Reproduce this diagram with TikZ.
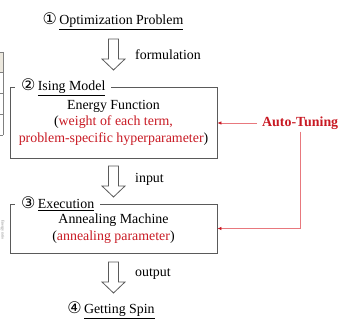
\documentclass[tikz,border=0pt]{standalone}
\usepackage{fontspec}
\setmainfont{Liberation Serif}
\newfontfamily\symfont{DejaVu Sans}
\usetikzlibrary{arrows.meta}
\definecolor{boxgray}{RGB}{90,90,90}
\definecolor{tred}{RGB}{200,25,35}
\definecolor{lred}{RGB}{232,120,125}
\definecolor{beige}{RGB}{236,232,222}
\newcommand{\cnum}[1]{{\symfont\fontsize{16}{16}\selectfont #1}}
\begin{document}
\begin{tikzpicture}[x=1pt,y=-1pt,
  font=\fontsize{13.9}{16.5}\selectfont,
  box/.style={draw=boxgray, line width=0.8pt, minimum width=207pt, align=center, inner sep=0pt},
  boxtitle/.style={fill=white, inner xsep=6pt, inner ysep=1pt, anchor=west},
  lbl/.style={anchor=west, inner sep=0pt},
  redline/.style={draw=lred, line width=0.7pt, -{Latex[length=4pt,width=3.5pt,color=tred]}},
  hollowarrow/.pic={\draw[draw=boxgray, line width=0.8pt, fill=white]
     (-5,0) -- (5,0) -- (5,20) -- (11.5,20) -- (0,31) -- (-11.5,20) -- (-5,20) -- cycle;}]
\useasboundingbox (0,0) rectangle (340,320);

% cropped table fragment at left edge
\fill[beige] (0,52) rectangle (3,72);
\draw[gray, line width=0.6pt] (3,52) -- (3,135);
\foreach \yy in {52,72,93,114,135} \draw[gray, line width=0.6pt] (0,\yy) -- (3,\yy);
\node[rotate=-90, text=gray, font=\fontsize{4}{4}\selectfont, inner sep=0pt] (side) at (2.5,230) {Energy ratio};

% step 1
\node[inner sep=0pt] (p1) at (113,21) {\cnum{①}\,\underline{Optimization Problem}};
\pic (a1) at (113.5,39) {hollowarrow};
\node[lbl] (f1) at (135,55) {formulation};

% step 2 box
\node[box, minimum height=71pt] (b2) at (113.5,122.5)
  {Energy Function\\(\textcolor{tred}{weight of each term,}\\\textcolor{tred}{problem-specific hyperparameter})};
\node[boxtitle] (t2) at (15,87) {\cnum{②}\,\underline{Ising Model}};

\pic (a2) at (113.5,166) {hollowarrow};
\node[lbl] (f2) at (135,179) {input};

% step 3 box
\node[box, minimum height=49pt] (b3) at (113.5,228.5)
  {Annealing Machine\\(\textcolor{tred}{annealing parameter})};
\node[boxtitle] (t3) at (15,204) {\cnum{③}\,\underline{Execution}};

\pic (a3) at (113.5,262) {hollowarrow};
\node[lbl] (f3) at (135,274) {output};

% step 4
\node[inner sep=0pt] (p4) at (111,310) {\cnum{④}\,\underline{Getting Spin}};

% auto-tuning
\node[anchor=west, inner sep=2pt, text=tred] (at) at (260,123) {\textbf{Auto-Tuning}};
\draw[redline, shorten <=3pt] (at.west) -- (at.west -| b2.east);
\draw[redline] (at.south) |- (b3.east);
\end{tikzpicture}
\end{document}
